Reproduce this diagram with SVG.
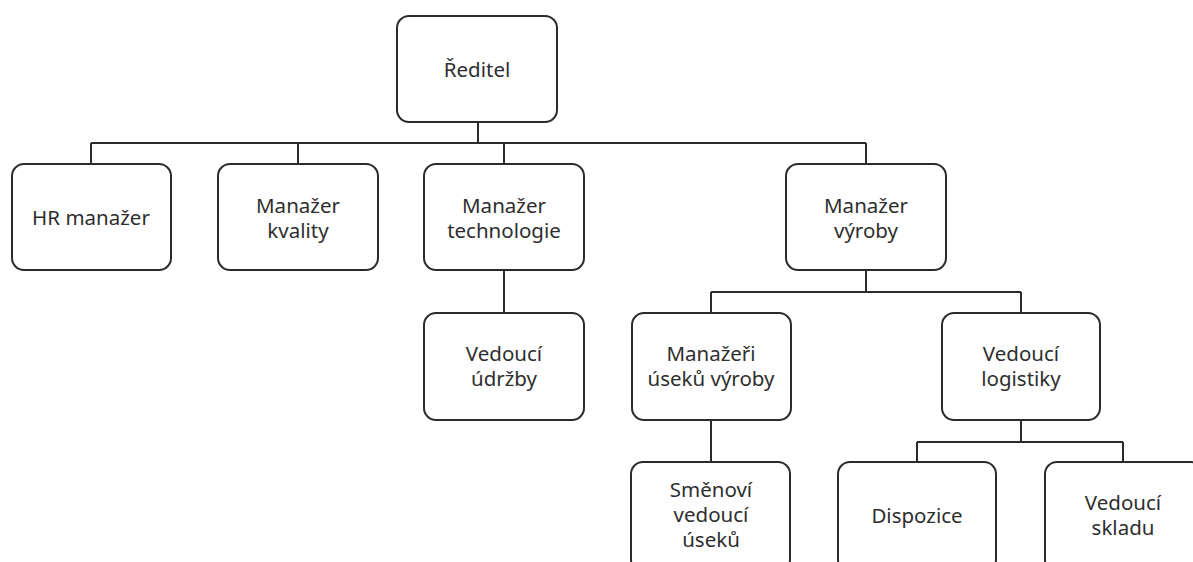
<svg xmlns="http://www.w3.org/2000/svg" width="1193" height="562" viewBox="0 0 1193 562">
<style>
.box{fill:#fff;stroke:#2b2b2b;stroke-width:2;}
.lbl{font-family:"Noto Sans","Open Sans","DejaVu Sans",sans-serif;font-size:20.5px;fill:#2e2e2e;text-anchor:middle;dominant-baseline:central;}
.con{fill:none;stroke:#2b2b2b;stroke-width:2;}
</style>
<rect width="1193" height="562" fill="#fff"/>
<g id="connectors">
<path class="con" d="M478,122V143M91,143H866M91,143V164M298,143V164M504,143V164M866,143V164"/>
<path class="con" d="M504,270V313"/>
<path class="con" d="M866,270V292M711,292H1021M711,292V313M1021,292V313"/>
<path class="con" d="M711,420V462"/>
<path class="con" d="M1021,420V442M917,442H1123M917,442V462M1123,442V462"/>
</g>
<g id="reditel"><rect class="box" x="397" y="16" width="160" height="106" rx="12"/><text class="lbl" x="477" y="69">Ředitel</text></g>
<g id="hr"><rect class="box" x="12" y="164" width="159" height="106" rx="12"/><text class="lbl" x="91" y="217">HR manažer</text></g>
<g id="kvalita"><rect class="box" x="218" y="164" width="160" height="106" rx="12"/><text class="lbl"><tspan x="298" y="205">Manažer</tspan><tspan x="298" y="230">kvality</tspan></text></g>
<g id="technologie"><rect class="box" x="424" y="164" width="160" height="106" rx="12"/><text class="lbl"><tspan x="504" y="205">Manažer</tspan><tspan x="504" y="230">technologie</tspan></text></g>
<g id="vyroba"><rect class="box" x="786" y="164" width="160" height="106" rx="12"/><text class="lbl"><tspan x="866" y="205">Manažer</tspan><tspan x="866" y="230">výroby</tspan></text></g>
<g id="udrzba"><rect class="box" x="424" y="313" width="160" height="107" rx="12"/><text class="lbl"><tspan x="504" y="353">Vedoucí</tspan><tspan x="504" y="378">údržby</tspan></text></g>
<g id="useky"><rect class="box" x="632" y="313" width="159" height="107" rx="12"/><text class="lbl"><tspan x="711" y="353">Manažeři</tspan><tspan x="711" y="378">úseků výroby</tspan></text></g>
<g id="logistika"><rect class="box" x="942" y="313" width="158" height="107" rx="12"/><text class="lbl"><tspan x="1021" y="353">Vedoucí</tspan><tspan x="1021" y="378">logistiky</tspan></text></g>
<g id="smenovi"><rect class="box" x="631" y="462" width="159" height="110" rx="12"/><text class="lbl"><tspan x="711" y="489">Směnoví</tspan><tspan x="711" y="514">vedoucí</tspan><tspan x="711" y="539">úseků</tspan></text></g>
<g id="dispozice"><rect class="box" x="838" y="462" width="158" height="110" rx="12"/><text class="lbl" x="917" y="515">Dispozice</text></g>
<g id="sklad"><rect class="box" x="1045" y="462" width="158" height="110" rx="12"/><text class="lbl"><tspan x="1123" y="502">Vedoucí</tspan><tspan x="1123" y="527">skladu</tspan></text></g>
</svg>
